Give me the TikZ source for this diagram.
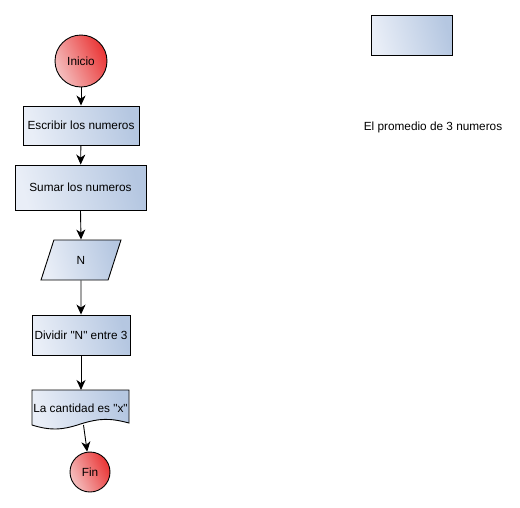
\documentclass[tikz,border=0pt]{standalone}
\usepackage{fontspec}
\setmainfont{Liberation Sans}[Ligatures=TeXOff]
\usetikzlibrary{arrows.meta,shapes.geometric}
\definecolor{boxL}{HTML}{E9EEF7}
\definecolor{boxR}{HTML}{B5C7E1}
\definecolor{redL}{HTML}{F4C0C0}
\definecolor{redR}{HTML}{EA3434}
\tikzset{
  flowbox/.style={draw=black, line width=0.9pt, left color=boxL, right color=boxR, shading angle=105, inner sep=0pt, font=\fontsize{11.8}{13}\selectfont},
  termcirc/.style={circle, draw=black, line width=0.9pt, left color=redL, right color=redR, shading angle=115, inner sep=0pt, font=\fontsize{11.8}{13}\selectfont},
  conn/.style={draw=black, line width=0.9pt, -{Stealth[length=10pt,width=9pt,inset=3pt]}},
  lbl/.style={font=\fontsize{11.8}{13}\selectfont}
}
\begin{document}
\begin{tikzpicture}[x=1pt,y=-1pt]
\useasboundingbox (0,0) rectangle (520,507);
\node[termcirc, minimum size=52pt] (ini) at (81,61) {Inicio};
\node[flowbox, minimum width=116pt, minimum height=39pt] (esc) at (81,125.5) {Escribir los numeros};
\node[flowbox, minimum width=131pt, minimum height=45pt] (sum) at (80.5,187.5) {Sumar los numeros};
\node[flowbox, trapezium, trapezium left angle=76, trapezium right angle=104, minimum width=80pt, minimum height=40pt, trapezium stretches=true] (n) at (81,260) {N};
\node[flowbox, minimum width=98pt, minimum height=40pt] (div) at (81,335) {Dividir "N" entre 3};
% document shape
\path[flowbox] (32,390) -- (129,390) -- (129,423)
  .. controls (110,418) and (100,418) .. (80.5,424)
  .. controls (60,431) and (48,430) .. (32,425) -- cycle;
\node[lbl, inner sep=0pt] (doc) at (80.5,408) {La cantidad es "x"};
\coordinate (doct) at (81,390);
\coordinate (docb) at (83.5,425);
\node[termcirc, minimum size=40pt] (fin) at (90,472) {Fin};
\node[flowbox, minimum width=81pt, minimum height=40pt] (leg) at (411.5,35) {};
\node[lbl] (title) at (433,127) {El promedio de 3 numeros};
\draw[conn] (ini) -- (esc);
\draw[conn] (esc) -- (sum);
\draw[conn] (sum.south) -- (n.north);
\draw[conn] (n.south) -- (div.north);
\draw[conn] (div.south) -- (doct);
\draw[conn] (docb) -- (fin);
\end{tikzpicture}
\end{document}
